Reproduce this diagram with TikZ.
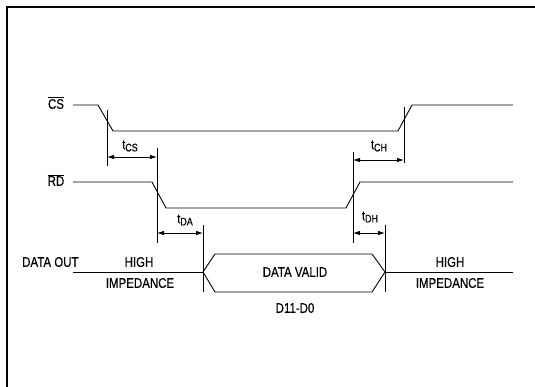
\documentclass[tikz,border=0pt]{standalone}
\usepackage{fontspec}
\setmainfont{Liberation Sans}[FakeStretch=0.82,FakeBold=0.4]
\usetikzlibrary{arrows.meta}
\begin{document}
\begin{tikzpicture}[x=1pt,y=-1pt,
  wave/.style={line width=0.9pt},
  guide/.style={line width=0.8pt},
  dim/.style={line width=0.8pt,{Latex[length=7pt,width=4.5pt]}-{Latex[length=7pt,width=4.5pt]}},
  lbl/.style={inner sep=0pt,font=\fontsize{14}{16}\selectfont},
  tlbl/.style={inner sep=0pt,font=\fontsize{13.5}{15}\selectfont}]
\useasboundingbox (0,0) rectangle (535,387);
% frame
\coordinate (fa) at (7,387);
\coordinate (fb) at (7,7);
\coordinate (fc) at (535,7);
\draw[line width=1.5pt] (fa) -- (fb) -- (fc);
% labels
\node[lbl] (cs) at (56,103) {$\overline{\mbox{CS}}$};
\node[lbl] (rd) at (56,180) {$\overline{\mbox{RD}}$};
\node[lbl,anchor=west] (dout) at (22,262) {DATA OUT};
% CS waveform
\coordinate (cs0) at (73,105);
\coordinate (cs1) at (98,105);
\coordinate (cs2) at (113,131);
\coordinate (cs3) at (398,131);
\coordinate (cs4) at (412,105);
\coordinate (cs5) at (513,105);
\draw[wave] (cs0) -- (cs1) -- (cs2) -- (cs3) -- (cs4) -- (cs5);
% RD waveform
\coordinate (rd0) at (73,182);
\coordinate (rd1) at (152,182);
\coordinate (rd2) at (166,208);
\coordinate (rd3) at (346,208);
\coordinate (rd4) at (360,182);
\coordinate (rd5) at (513,182);
\draw[wave] (rd0) -- (rd1) -- (rd2) -- (rd3) -- (rd4) -- (rd5);
% data out
\coordinate (d0) at (73,272);
\coordinate (dl) at (203,272);
\coordinate (dtl) at (215,254);
\coordinate (dtr) at (372,254);
\coordinate (dr) at (385,272);
\coordinate (dbr) at (372,292);
\coordinate (dbl) at (215,292);
\coordinate (d1) at (513,272);
\draw[wave] (d0) -- (dl);
\draw[wave] (dl) -- (dtl) -- (dtr) -- (dr) -- (dbr) -- (dbl) -- cycle;
\draw[wave] (dr) -- (d1);
\node[lbl] (hi1) at (139,262) {HIGH};
\node[lbl] (imp1) at (140,283) {IMPEDANCE};
\node[lbl] (hi2) at (450,262) {HIGH};
\node[lbl] (imp2) at (450,283) {IMPEDANCE};
\node[lbl] (dv) at (295,272) {DATA VALID};
\node[lbl] (dd) at (295,308) {D11-D0};
% guide lines
\coordinate (g1t) at (107,110); \coordinate (g1b) at (107,166);
\coordinate (g2t) at (157,148); \coordinate (g2b) at (157,243);
\coordinate (g3t) at (203,225); \coordinate (g3b) at (203,292);
\coordinate (g4t) at (353,152); \coordinate (g4b) at (353,243);
\coordinate (g5t) at (404,107); \coordinate (g5b) at (404,163);
\coordinate (g6t) at (385,225); \coordinate (g6b) at (385,292);
\draw[guide] (g1t) -- (g1b);
\draw[guide] (g2t) -- (g2b);
\draw[guide] (g3t) -- (g3b);
\draw[guide] (g4t) -- (g4b);
\draw[guide] (g5t) -- (g5b);
\draw[guide] (g6t) -- (g6b);
% dimension arrows
\coordinate (acs1) at (107,157); \coordinate (acs2) at (157,157);
\coordinate (ach1) at (353,160); \coordinate (ach2) at (404,160);
\coordinate (ada1) at (157,233); \coordinate (ada2) at (203,233);
\coordinate (adh1) at (353,233); \coordinate (adh2) at (385,233);
\draw[dim] (acs1) -- (acs2);
\draw[dim] (ach1) -- (ach2);
\draw[dim] (ada1) -- (ada2);
\draw[dim] (adh1) -- (adh2);
\node[tlbl] (tcs) at (130,146) {t\raisebox{-0.3ex}{\fontsize{11}{12}\selectfont CS}};
\node[tlbl] (tch) at (379,146) {t\raisebox{-0.3ex}{\fontsize{11}{12}\selectfont CH}};
\node[tlbl] (tda) at (185,220) {t\raisebox{-0.3ex}{\fontsize{11}{12}\selectfont DA}};
\node[tlbl] (tdh) at (370,217) {t\raisebox{-0.3ex}{\fontsize{11}{12}\selectfont DH}};
\end{tikzpicture}
\end{document}
